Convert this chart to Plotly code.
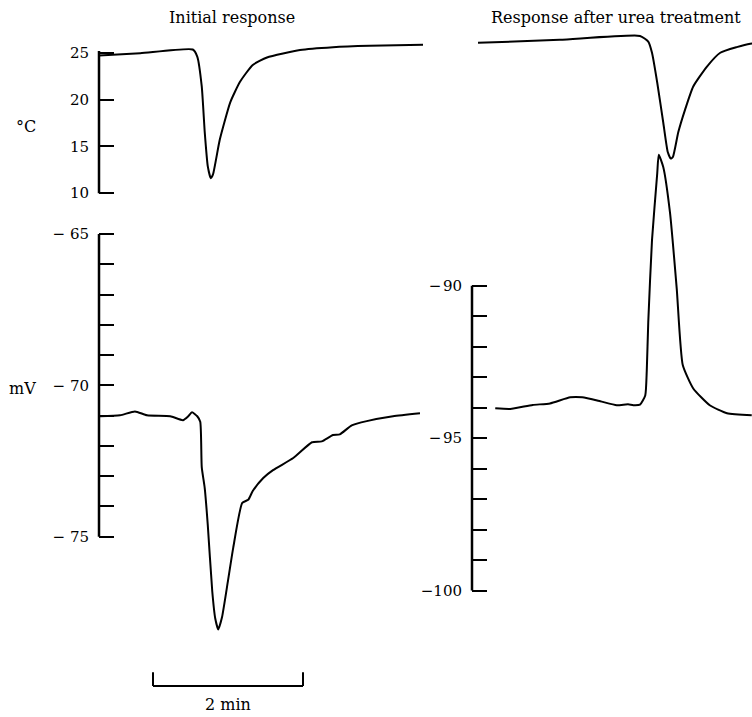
import plotly.graph_objects as go

# ---------------- data (time in minutes, temperature in °C, potential in mV) -------------
t_temp_initial = [0.00, 0.55, 1.25, 1.31, 1.37, 1.41, 1.45, 1.49, 1.52, 1.61, 1.75,
                  1.88, 2.05, 2.24, 2.68, 3.12, 3.61, 4.32]
temp_initial = [24.7, 24.95, 25.35, 24.6, 21.4, 16.5, 12.9, 11.6, 12.0, 15.7, 19.7,
                21.9, 23.7, 24.5, 25.3, 25.6, 25.75, 25.85]

t_mv_initial = [0.01, 0.28, 0.48, 0.64, 0.95, 1.12, 1.19, 1.24, 1.31, 1.35, 1.37, 1.41,
                1.45, 1.51, 1.55, 1.59, 1.64, 1.72, 1.79, 1.91, 1.99, 2.05, 2.19, 2.32,
                2.59, 2.84, 2.97, 3.12, 3.21, 3.37, 3.57, 3.92, 4.28]
mv_initial = [-71.02, -70.99, -70.86, -70.99, -71.02, -71.15, -71.02, -70.89, -71.02, -71.2,
              -72.7, -73.4, -74.6, -76.8, -77.7, -78.06, -77.66, -76.45, -75.36, -73.88,
              -73.78, -73.49, -73.06, -72.8, -72.4, -71.88, -71.85, -71.64, -71.62, -71.32,
              -71.18, -71.02, -70.92]

t_temp_urea = [0.08, 1.17, 2.24, 2.35, 2.40, 2.47, 2.55, 2.61, 2.65, 2.68, 2.75, 2.84,
               2.95, 3.13, 3.31, 3.53, 3.71, 3.85]
temp_urea = [26.06, 26.38, 26.8, 26.2, 25.0, 21.8, 17.55, 14.4, 13.7, 13.9, 16.5, 18.9,
             21.4, 23.5, 25.0, 25.6, 25.96, 26.05]

t_mv_urea = [0.31, 0.51, 0.81, 1.04, 1.31, 1.47, 1.71, 1.93, 2.08, 2.15, 2.24, 2.31, 2.33,
             2.35, 2.40, 2.47, 2.49, 2.55, 2.64, 2.73, 2.81, 2.95, 3.17, 3.40, 3.73]
mv_urea = [-94.02, -94.04, -93.91, -93.86, -93.66, -93.66, -93.79, -93.92, -93.89, -93.92,
           -93.9, -93.6, -92.8, -91.2, -88.5, -86.3, -85.7, -86.1, -87.6, -90.1, -92.6,
           -93.37, -93.92, -94.18, -94.25]

temp_ticks = [10, 15, 20, 25]
mv_initial_ticks = list(range(-75, -64))
mv_initial_labels = {-75: "\u2212 75", -70: "\u2212 70", -65: "\u2212 65"}
mv_urea_ticks = list(range(-100, -89))
mv_urea_labels = {-100: "\u2212100", -95: "\u2212\u200a95", -90: "\u2212\u200a90"}

panel_titles = ["Initial response", "Response after urea treatment"]
scale_bar_minutes = [0.72, 2.72]
scale_bar_label = "2 min"

# ---------------- figure -------------------------------------------------------------------
W, H = 752, 717
FONT = "DejaVu Serif"
def px(x): return x / W
def py(y): return 1 - y / H

fig = go.Figure()
line = dict(color="black", width=2, shape="spline", smoothing=0.5)
fig.add_trace(go.Scatter(x=t_temp_initial, y=temp_initial, mode="lines", line=line,
                         xaxis="x", yaxis="y", showlegend=False))
fig.add_trace(go.Scatter(x=t_mv_initial, y=mv_initial, mode="lines", line=line,
                         xaxis="x", yaxis="y2", showlegend=False))
fig.add_trace(go.Scatter(x=t_temp_urea, y=temp_urea, mode="lines", line=line,
                         xaxis="x2", yaxis="y3", showlegend=False))
fig.add_trace(go.Scatter(x=t_mv_urea, y=mv_urea, mode="lines", line=line,
                         xaxis="x2", yaxis="y4", showlegend=False))

tickfont = dict(family=FONT, size=15, color="black")
common_y = dict(showgrid=False, zeroline=False, showline=False, ticks="inside",
                ticklen=15, tickwidth=2, tickcolor="black", tickfont=tickfont,
                ticklabelstandoff=9, fixedrange=True)

fig.update_layout(
    width=W, height=H, margin=dict(l=0, r=0, t=0, b=0),
    paper_bgcolor="white", plot_bgcolor="rgba(0,0,0,0)",
    xaxis=dict(domain=[px(99), px(430)], range=[0, 331 / 75], visible=False, anchor="y"),
    xaxis2=dict(domain=[px(472), 1.0], range=[0, 280 / 75], visible=False, anchor="y4"),
    yaxis=dict(domain=[py(200), py(30)], range=[10 - 6 / 9.4, 10 + 164 / 9.4], anchor="x",
               tickvals=temp_ticks, ticktext=[str(v) for v in temp_ticks], **common_y),
    yaxis2=dict(domain=[py(660), py(220)], range=[-65 - 425 / 30.4, -65 + 15 / 30.4],
                anchor="x", tickvals=mv_initial_ticks,
                ticktext=[mv_initial_labels.get(v, "") for v in mv_initial_ticks], **common_y),
    yaxis3=dict(domain=[py(200), py(30)], range=[10 - 6 / 9.4, 10 + 164 / 9.4], anchor="x2",
                visible=False),
    yaxis4=dict(domain=[py(640), py(140)], range=[-90 - 353 / 30.6, -90 + 147 / 30.6],
                anchor="x2", tickvals=mv_urea_ticks,
                ticktext=[mv_urea_labels.get(v, "") for v in mv_urea_ticks], **common_y),
)

axis_line = dict(color="black", width=2.5)
shapes = [
    dict(type="line", xref="x domain", yref="y", x0=0, x1=0, y0=10, y1=25.2, line=axis_line),
    dict(type="line", xref="x domain", yref="y2", x0=0, x1=0, y0=-75, y1=-65, line=axis_line),
    dict(type="line", xref="x2 domain", yref="y4", x0=0, x1=0, y0=-100, y1=-90, line=axis_line),
]
# 2-minute scale bar
sb0, sb1 = scale_bar_minutes
shapes += [
    dict(type="line", xref="x", yref="paper", x0=sb0, x1=sb1, y0=py(689), y1=py(689),
         line=dict(color="black", width=2)),
    dict(type="line", xref="x", yref="paper", x0=sb0, x1=sb0, y0=py(689), y1=py(675),
         line=dict(color="black", width=2)),
    dict(type="line", xref="x", yref="paper", x0=sb1, x1=sb1, y0=py(689), y1=py(675),
         line=dict(color="black", width=2)),
]
fig.update_layout(shapes=shapes)

annots = [
    dict(text=panel_titles[0], x=px(232), y=py(18), size=16),
    dict(text=panel_titles[1], x=px(616), y=py(18), size=16),
    dict(text="°C", x=px(26), y=py(127), size=16),
    dict(text="mV", x=px(22), y=py(390), size=16),
]
for a in annots:
    fig.add_annotation(text=a["text"], x=a["x"], y=a["y"], xref="paper", yref="paper",
                       showarrow=False, xanchor="center", yanchor="middle",
                       font=dict(family=FONT, size=a["size"], color="black"))
fig.add_annotation(text=scale_bar_label, x=(sb0 + sb1) / 2, y=py(707), xref="x", yref="paper",
                   showarrow=False, xanchor="center", yanchor="middle",
                   font=dict(family=FONT, size=16, color="black"))

fig.write_html("out.html", config={"displayModeBar": False})
